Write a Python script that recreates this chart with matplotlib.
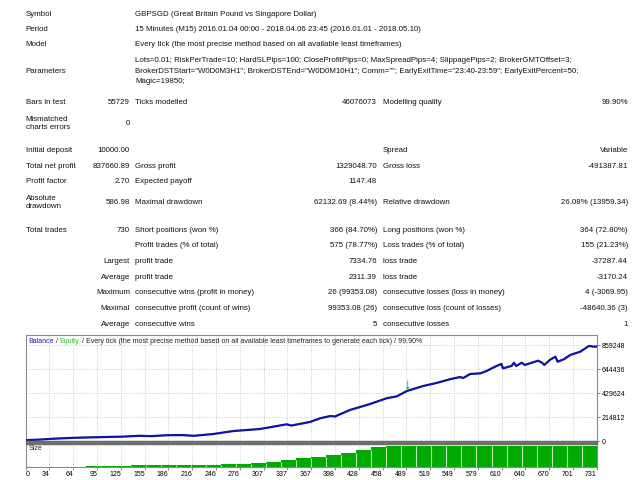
import numpy as np
import matplotlib.pyplot as plt
from matplotlib.patches import Rectangle

plt.rcParams['font.family'] = ['Liberation Sans', 'DejaVu Sans']

# ---- report text ----
header_rows = [
    ("Symbol", "GBPSGD (Great Britain Pound vs Singapore Dollar)"),
    ("Period", "15 Minutes (M15) 2016.01.04 00:00 - 2018.04.06 23:45 (2016.01.01 - 2018.05.10)"),
    ("Model", "Every tick (the most precise method based on all available least timeframes)"),
]
params_lines = [
    'Lots=0.01; RiskPerTrade=10; HardSLPips=100; CloseProfitPips=0; MaxSpreadPips=4; SlippagePips=2; BrokerGMTOffset=3;',
    'BrokerDSTStart="W0D0M3H1"; BrokerDSTEnd="W0D0M10H1"; Comm=""; EarlyExitTime="23:40-23:59"; EarlyExitPercent=50;',
    'Magic=19850;',
]
stats_rows = [
    ("Bars in test", "55729", "Ticks modelled", "46076073", "Modelling quality", "99.90%"),
    ("Mismatched\ncharts errors", "0", "", "", "", ""),
    ("Initial deposit", "10000.00", "", "", "Spread", "Variable"),
    ("Total net profit", "837660.89", "Gross profit", "1329048.70", "Gross loss", "-491387.81"),
    ("Profit factor", "2.70", "Expected payoff", "1147.48", "", ""),
    ("Absolute\ndrawdown", "586.98", "Maximal drawdown", "62132.69 (8.44%)", "Relative drawdown", "26.08% (13959.34)"),
    ("Total trades", "730", "Short positions (won %)", "366 (84.70%)", "Long positions (won %)", "364 (72.80%)"),
    ("", "", "Profit trades (% of total)", "575 (78.77%)", "Loss trades (% of total)", "155 (21.23%)"),
    ("", "Largest", "profit trade", "7334.76", "loss trade", "-37287.44"),
    ("", "Average", "profit trade", "2311.39", "loss trade", "-3170.24"),
    ("", "Maximum", "consecutive wins (profit in money)", "26 (99353.08)",
     "consecutive losses (loss in money)", "4 (-3069.95)"),
    ("", "Maximal", "consecutive profit (count of wins)", "99353.08 (26)",
     "consecutive loss (count of losses)", "-48640.36 (3)"),
    ("", "Average", "consecutive wins", "5", "consecutive losses", "1"),
]

# ---- chart data ----
bal_trades = [0, 20, 35, 65, 104, 125, 146, 160, 180, 200, 215, 240, 266, 300, 334, 340,
              364, 377, 390, 396, 415, 441, 462, 475, 488, 509, 526, 543, 556, 560, 569,
              582, 590, 601, 609, 611, 622, 625, 628, 635, 639, 648, 656, 661, 664, 671,
              678, 681, 689, 697, 710, 721, 727, 731]
bal_values = [10000, 16000, 23000, 32000, 38500, 42000, 49000, 46000, 54000, 56000, 49000,
              65000, 92000, 110000, 152000, 141000, 173000, 206000, 226000, 222000, 280000,
              334000, 385000, 402000, 450000, 495000, 522000, 555000, 575000, 566000, 602000,
              608000, 629000, 668000, 692000, 653000, 674000, 703000, 674000, 703000, 683000,
              703000, 721000, 703000, 683000, 728000, 757000, 712000, 734000, 772000, 802000,
              853000, 847000, 847660]
equity_mark_trade = 489

y_ticks = [0, 214812, 429624, 644436, 859248]
x_labels = ["0", "34", "64", "95", "125", "155", "186", "216", "246", "276", "307", "337",
            "367", "398", "428", "458", "489", "519", "549", "579", "610", "640", "670",
            "701", "731"]
n_trades = 731

# lot size per block (relative)
size_blocks = [0, 0, 0, 0, 0.03, 0.05, 0.05, 0.06, 0.06, 0.07, 0.08, 0.09, 0.10, 0.12,
               0.14, 0.17, 0.22, 0.30, 0.40, 0.46, 0.56, 0.67, 0.78, 0.93] + [1.0] * 14

W, H = 640, 480
FS = 5.7
CFS = 5.0


def fx(x):
    return x / W


def fy(y):
    return 1 - y / H


fig = plt.figure(figsize=(6.4, 4.8), dpi=100)
fig.patch.set_facecolor('white')


def put(x, y, s, ha='left', size=FS, **kw):
    fig.text(fx(x), fy(y), s, ha=ha, va='center', fontsize=size, color='#111111',
             linespacing=1.3, **kw)


# header
col_x = [25.7, 130, 135, 377, 382.7, 628]
col_ha = ['left', 'right', 'left', 'right', 'left', 'right']
for (label, value), y in zip(header_rows, [14.3, 29.7, 45]):
    put(col_x[0], y, label)
    put(col_x[2], y, value)
put(col_x[0], 71.3, "Parameters")
for line, y in zip(params_lines, [61, 71.3, 81.7]):
    put(col_x[2], y, line)

stats_y = [102, 123.3, 151, 166, 181.7, 202.7, 230.3, 246, 261.7, 277.3, 292.7, 308.3, 324]
for row, y in zip(stats_rows, stats_y):
    for s, x, ha in zip(row, col_x, col_ha):
        if s:
            put(x, y, s, ha=ha)

# ---- balance chart ----
left, right = 25.7, 596.7
top_main, bot_main = 335, 441.3
top_size, bot_size = 444.3, 466.7

ax = fig.add_axes([fx(left), fy(bot_main), (right - left) / W, (bot_main - top_main) / H])
grid_x = np.linspace(0, n_trades, len(x_labels))

ax.plot(bal_trades, bal_values, color='#44cc44', lw=1.0, zorder=2)
ax.plot(bal_trades, bal_values, color='#1212a6', lw=1.6, zorder=3,
        solid_joinstyle='round')
ax.set_xlim(0, n_trades)
ax.set_ylim(0, 951000)
ax.set_xticks(grid_x)
ax.set_yticks(y_ticks)
ax.set_yticklabels([str(v) for v in y_ticks])
ax.yaxis.tick_right()
ax.tick_params(axis='x', length=0, labelbottom=False)
ax.tick_params(axis='y', length=2, width=0.6, color='#707070', pad=1.5, labelsize=CFS)
ax.grid(True, ls=(0, (1, 2)), color='#b8b8b8', lw=0.6)
for sp in ax.spines.values():
    sp.set_color('#8a8a8a')
    sp.set_linewidth(0.8)

mark_y = np.interp(equity_mark_trade, bal_trades, bal_values)
ax.annotate('', xy=(equity_mark_trade, mark_y), xytext=(0, 7), textcoords='offset points',
            arrowprops=dict(arrowstyle='-|>', color='#33cc33', lw=0.7, mutation_scale=4,
                            shrinkA=0, shrinkB=0), zorder=4)

# legend text
t1 = ax.text(0.0046, 0.937, "Balance", color='#2020a0', fontsize=CFS, va='center',
             transform=ax.transAxes)
t2 = ax.annotate(" / ", xy=(1, 0), xycoords=t1, va='bottom', fontsize=CFS, color='#333333')
t3 = ax.annotate("Equity", xy=(1, 0), xycoords=t2, va='bottom', fontsize=CFS, color='#33bb33')
ax.annotate(" / Every tick (the most precise method based on all available least timeframes "
            "to generate each tick) / 99.90%", xy=(1, 0), xycoords=t3, va='bottom',
            fontsize=CFS, color='#222222')

# separator between panels
fig.patches.append(Rectangle((fx(left), fy(top_size)), (right - left) / W,
                             (top_size - bot_main) / H, transform=fig.transFigure,
                             color='#6e6e6e', zorder=5))

# ---- size chart ----
axs = fig.add_axes([fx(left), fy(bot_size), (right - left) / W, (bot_size - top_size) / H])
block_w = n_trades / len(size_blocks)
block_x = np.arange(len(size_blocks)) * block_w
axs.bar(block_x, size_blocks, width=block_w, align='edge', color='#00aa00', lw=0, zorder=2)
for i in range(1, len(size_blocks)):
    h = min(size_blocks[i - 1], size_blocks[i])
    if h > 0:
        axs.vlines(block_x[i], 0, h, color='#bfeebf', lw=0.8, zorder=3)
axs.set_xlim(0, n_trades)
axs.set_ylim(0, 1.067)
axs.set_yticks([])
axs.set_xticks(grid_x)
axs.set_xticklabels(x_labels)
for i, lab in enumerate(axs.get_xticklabels()):
    lab.set_ha('left' if i == 0 else 'right')
axs.tick_params(axis='x', length=2, width=0.6, color='#707070', pad=1.2, labelsize=CFS)
axs.grid(True, axis='x', ls=(0, (1, 2)), color='#b8b8b8', lw=0.6, zorder=0)
axs.set_axisbelow(True)
for sp in axs.spines.values():
    sp.set_color('#8a8a8a')
    sp.set_linewidth(0.8)
axs.text(0.0046, 0.8, "Size", fontsize=CFS, va='center', transform=axs.transAxes,
         color='#222222')

fig.savefig('out.png', dpi=100)
